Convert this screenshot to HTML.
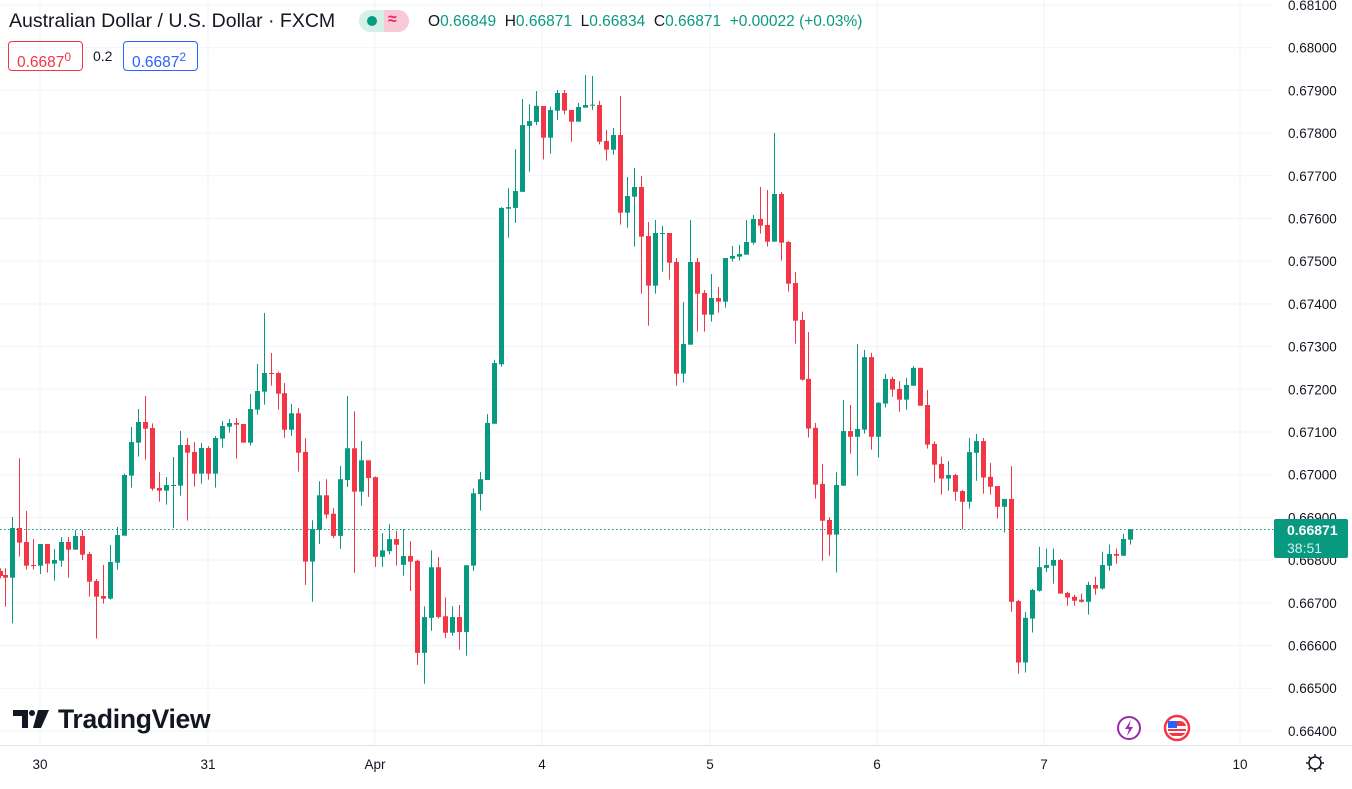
<!DOCTYPE html>
<html><head><meta charset="utf-8">
<style>
html,body{margin:0;padding:0;background:#fff;}
body{width:1352px;height:789px;overflow:hidden;position:relative;font-family:"Liberation Sans",sans-serif;}
svg{position:absolute;left:0;top:0;}
.hdr{position:absolute;left:9px;top:10px;font-size:19.5px;color:#131722;white-space:nowrap;}
.ohlc{position:absolute;left:428px;top:13px;font-size:15.5px;color:#089981;white-space:nowrap;}
.ohlc b{font-weight:normal;color:#131722;}
.box{position:absolute;top:41px;height:30px;border:1px solid;border-radius:4px;font-size:15.5px;line-height:30px;box-sizing:border-box;padding:0 0 0 8px;}
</style></head><body>
<svg id="c" width="1352" height="789" xmlns="http://www.w3.org/2000/svg"></svg>
<div class="hdr">Australian Dollar / U.S. Dollar · FXCM</div>
<div style="position:absolute;left:359px;top:10px;width:50px;height:22px;border-radius:11px;background:#d5efe9;overflow:hidden;">
 <div style="position:absolute;left:25px;top:0;width:25px;height:22px;background:#f8c9d6;"></div>
 <div style="position:absolute;left:8px;top:6px;width:10px;height:10px;border-radius:5px;background:#089981;"></div>
 <div style="position:absolute;left:29px;top:1px;font-size:16px;color:#e91e63;font-weight:bold;">≈</div>
</div>
<div class="ohlc"><b>O</b>0.66849 &nbsp;<b>H</b>0.66871 &nbsp;<b>L</b>0.66834 &nbsp;<b>C</b>0.66871 &nbsp;+0.00022 (+0.03%)</div>
<div class="box" style="left:8px;width:75px;border-color:#f23645;color:#f23645;">0.6687<sup style="font-size:12px">0</sup></div>
<div style="position:absolute;left:93px;top:48px;font-size:14px;color:#131722;">0.2</div>
<div class="box" style="left:123px;width:75px;border-color:#2962ff;color:#2962ff;">0.6687<sup style="font-size:12px">2</sup></div>
<div style="position:absolute;left:58px;top:704px;font-size:26.5px;font-weight:bold;color:#131722;letter-spacing:-0.3px;">TradingView</div>
<script>
const svg=document.getElementById('c');
let h='';
for(let k=0;k<=17;k++){const y=5+42.7*k;h+=`<line x1="0" x2="1274" y1="${y}" y2="${y}" stroke="#f0f3fa" stroke-width="1"/>`;
 const p=(0.681-k*0.001).toFixed(5);h+=`<text x="1288" y="${y+5}" font-size="13.5" fill="#131722" font-family="Liberation Sans">${p}</text>`;}
[40,208,375,542,710,877,1044,1240].forEach(x=>{h+=`<line x1="${x}" x2="${x}" y1="0" y2="745" stroke="#f0f3fa"/>`;});
h+=`<line x1="0" x2="1352" y1="745.5" y2="745.5" stroke="#e0e3eb"/>`;
[['30',40],['31',208],['Apr',375],['4',542],['5',710],['6',877],['7',1044],['10',1240]].forEach(([t,x])=>{h+=`<text x="${x}" y="769" font-size="13.5" text-anchor="middle" fill="#131722" font-family="Liberation Sans">${t}</text>`;});
h+=`<line x1="0" x2="1274" y1="529.5" y2="529.5" stroke="#089981" stroke-dasharray="1.5,2.5"/>`;
const Z=[
[z=>z/3,z=>300+z/3,[[0,813,828,805,835,'r'],[16,825,833,805,920,'r'],[37,684,833,651,970,'g'],[58,684,728,475,770,'r'],[79,726,797,633,808,'r'],[100,795,797,717,808,'r'],[121,732,797,732,822,'g'],[142,732,791,732,818,'r'],[163,780,791,747,842,'g'],[184,726,782,711,800,'g'],[205,726,749,711,833,'r'],[226,708,749,690,749,'g'],[247,708,764,690,780,'r'],[268,762,845,756,890,'r'],[289,843,890,837,1016,'r'],[310,888,896,795,911,'r'],[331,786,896,735,899,'g'],[352,705,788,681,809,'g'],[373,525,707,521,707,'g'],[394,426,527,381,563,'g'],[415,366,428,327,470,'g'],[436,366,386,288,479,'r'],[457,384,566,370,572,'r'],[478,564,572,516,605,'r'],[499,555,572,531,614,'g'],[520,555,557,471,684,'g'],[541,435,557,393,587,'g'],[562,435,458,414,662,'r'],[583,456,521,426,560,'r'],[604,444,521,429,551,'g'],[625,444,521,438,539,'r'],[646,414,521,408,563,'g'],[667,378,416,363,443,'g'],[688,369,380,357,398,'g'],[709,369,374,354,476,'r'],[730,372,428,372,428,'r'],[751,327,428,282,437,'g'],[772,273,329,192,344,'g'],[793,219,275,39,314,'g'],[814,219,221,159,257,'r'],[835,219,281,215,329,'r']]],
[z=>270+z/3,z=>60+z/2.488,[[43,829,920,804,940,'r'],[64,879,920,856,935,'g'],[85,879,977,866,1024,'r'],[106,975,1248,941,1306,'r'],[127,1167,1248,1145,1348,'g'],[148,1083,1169,1048,1204,'g'],[169,1083,1131,1043,1141,'r'],[190,1129,1184,1115,1190,'r'],[211,1043,1184,1010,1216,'g'],[232,966,1045,836,1062,'g'],[253,966,1074,874,1276,'r'],[274,996,1074,948,1109,'g'],[295,996,1040,996,1087,'r'],[316,1038,1236,1036,1261,'r'],[337,1220,1236,1177,1261,'g'],[358,1192,1222,1155,1230,'g'],[379,1192,1206,1172,1258,'r'],[400,1234,1256,1167,1283,'g'],[421,1234,1248,1197,1321,'r'],[442,1246,1475,1243,1505,'r'],[463,1386,1475,1359,1552,'g'],[484,1262,1388,1220,1420,'g'],[505,1262,1386,1237,1390,'r'],[526,1384,1425,1337,1438,'r'],[547,1386,1425,1359,1432,'g'],[568,1386,1423,1356,1467,'r'],[589,1257,1423,1257,1482,'g'],[610,1078,1258,1066,1271,'g'],[631,1043,1080,1025,1121,'g'],[652,903,1045,881,1045,'g'],[673,754,905,747,905,'g'],[694,368,757,366,763,'g'],[715,366,370,319,442,'g'],[736,326,368,222,405,'g'],[757,162,328,97,328,'g'],[778,152,164,110,278,'g'],[799,114,154,77,162,'g']]],
[z=>540+z/3,z=>60+z/3,[[10,138,233,138,298,'r'],[31,150,233,140,281,'g'],[52,99,152,90,180,'g'],[73,99,152,90,163,'r'],[94,150,185,150,245,'r'],[115,141,185,129,185,'g'],[136,135,143,45,143,'g'],[157,134,136,48,150,'g'],[178,135,245,123,253,'r'],[199,243,269,210,302,'r'],[220,225,269,204,284,'g'],[241,225,458,108,494,'r'],[262,408,458,351,503,'g'],[283,381,410,324,560,'g'],[304,381,530,348,701,'r'],[325,528,677,486,797,'r'],[346,519,677,480,701,'g'],[367,519,521,498,635,'g'],[388,519,608,519,659,'r'],[409,606,941,594,977,'r'],[430,852,941,726,968,'g'],[451,606,854,480,854,'g'],[472,606,701,594,815,'r'],[493,699,764,690,815,'r'],[514,714,764,642,785,'g'],[535,714,725,681,758,'r'],[556,594,725,594,743,'g'],[577,588,596,558,605,'g'],[598,582,590,555,602,'g'],[619,546,584,480,584,'g'],[640,477,548,465,554,'g'],[661,477,497,381,521,'r'],[682,495,545,390,560,'r'],[703,402,545,219,545,'g'],[724,402,548,396,602,'r'],[745,546,671,543,695,'r'],[766,669,782,636,851,'r'],[787,780,959,755,962,'r']]],
[z=>800+z/3,z=>120+z/2.8,[[25,725,864,594,889,'r'],[46,862,1021,848,1060,'r'],[67,1019,1122,963,1234,'r'],[88,1120,1161,1112,1220,'r'],[109,1022,1161,986,1267,'g'],[130,871,1024,784,1024,'g'],[151,871,887,798,934,'r'],[172,865,887,627,996,'g'],[193,664,867,644,878,'g'],[214,664,887,652,923,'r'],[235,792,887,790,945,'g'],[256,725,794,711,805,'g'],[277,725,755,719,775,'r'],[298,753,783,731,817,'r'],[319,742,783,722,811,'g'],[340,694,744,689,744,'g'],[361,694,800,694,800,'r'],[382,798,909,756,920,'r'],[403,907,965,900,1015,'r'],[424,963,1004,943,1049,'r'],[445,994,1004,955,1038,'g'],[466,994,1041,991,1066,'r'],[487,1039,1069,1036,1146,'r'],[508,930,1069,890,1088,'g'],[529,899,932,879,1010,'g'],[550,899,1001,890,1046,'r'],[571,999,1027,960,1049,'r'],[592,1025,1083,1025,1116,'r'],[613,1061,1083,1061,1155,'g'],[634,1061,1349,969,1377,'r'],[655,1347,1519,1344,1550,'r'],[676,1394,1519,1378,1547,'g'],[697,1316,1396,1313,1435,'g'],[718,1252,1318,1195,1320,'g'],[739,1246,1254,1200,1266,'g'],[760,1232,1248,1200,1298,'g'],[781,1232,1326,1229,1326,'r'],[802,1324,1337,1321,1360,'r'],[823,1335,1346,1329,1360,'r'],[844,1343,1349,1326,1351,'r'],[865,1302,1349,1293,1385,'g'],[886,1302,1312,1279,1329,'r'],[907,1246,1312,1209,1315,'g'],[928,1215,1248,1189,1262,'g'],[949,1215,1220,1200,1242,'r'],[970,1173,1220,1159,1220,'g'],[991,1146,1175,1146,1189,'g']]]
];
Z.forEach(([fx,fy,arr])=>arr.forEach(([zx,t,b,wt,wb,c])=>{
 const x=Math.round(fx(zx)),col=c=='g'?'#089981':'#f23645';
 const yt=fy(t),yb=fy(b),ht=Math.max(1,yb-yt);
 h+=`<line x1="${x+0.5}" x2="${x+0.5}" y1="${fy(wt)}" y2="${fy(wb)}" stroke="${col}"/>`;
 h+=`<rect x="${x-2}" y="${yt}" width="5" height="${ht}" fill="${col}"/>`;
}));
h+=`<rect x="1274" y="519" width="74" height="39" rx="2" fill="#089981"/>`;
h+=`<text x="1287" y="535" font-size="14" font-weight="bold" fill="#fff" font-family="Liberation Sans">0.66871</text>`;
h+=`<text x="1287" y="553" font-size="14" fill="#d0efe9" font-family="Liberation Sans">38:51</text>`;
h+=`<path d="M13 710h15v18h-6v-12h-9z" fill="#131722"/><circle cx="32" cy="713" r="3" fill="#131722"/><path d="M38 710h11l-8 18h-8z" fill="#131722"/>`;
h+=`<circle cx="1129" cy="728" r="11" fill="#fff" stroke="#9c27b0" stroke-width="2"/><path d="M1131 720l-6 9h4l-2 7 6-9h-4z" fill="#9c27b0"/>`;
h+=`<circle cx="1177" cy="728" r="12" fill="#fff" stroke="#f23645" stroke-width="2.5"/><rect x="1168" y="721" width="18" height="15" rx="6" fill="#f23645"/><rect x="1168" y="726" width="18" height="3" fill="#fff"/><rect x="1168" y="731" width="18" height="2" fill="#fff"/><rect x="1168" y="721" width="9" height="7" fill="#2962ff"/>`;
h+=`<circle cx="1315" cy="763" r="6" fill="none" stroke="#131722" stroke-width="1.5"/>`;
for(let a=0;a<8;a++){const r=a*Math.PI/4;h+=`<line x1="${1315+6*Math.cos(r)}" y1="${763+6*Math.sin(r)}" x2="${1315+9*Math.cos(r)}" y2="${763+9*Math.sin(r)}" stroke="#131722" stroke-width="1.5"/>`;}
svg.innerHTML=h;
</script>
</body></html>
